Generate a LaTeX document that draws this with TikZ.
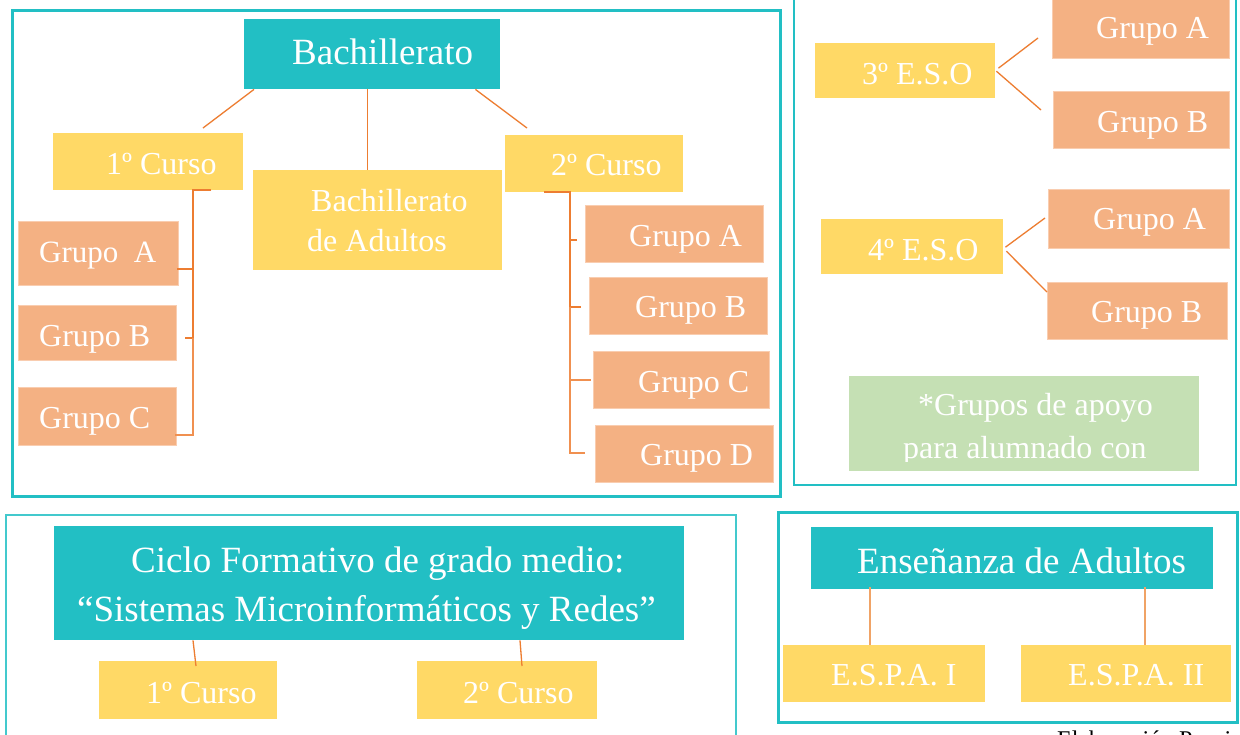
\documentclass[tikz,border=0pt]{standalone}
\usepackage{fontspec}
\setmainfont{Liberation Serif}
\definecolor{tealc}{HTML}{22BFC4}
\definecolor{yelc}{HTML}{FFD966}
\definecolor{orac}{HTML}{F4B183}
\definecolor{orab}{HTML}{F9CDB0}
\definecolor{grec}{HTML}{C5E0B4}
\definecolor{linec}{HTML}{ED7D31}
\definecolor{linel}{HTML}{F0A366}
\tikzset{
  tbox/.style={fill=tealc, inner sep=0pt, anchor=north west},
  ybox/.style={fill=yelc, inner sep=0pt, anchor=north west},
  obox/.style={fill=orac, draw=orab, line width=1.2pt, inner sep=0pt, anchor=north west},
  gbox/.style={fill=grec, inner sep=0pt, anchor=north west},
  txt/.style={text=white, inner sep=0pt, anchor=base west, font=\fontsize{32}{38}\selectfont},
  bigtxt/.style={txt, font=\fontsize{37}{45}\selectfont},
  conn/.style={draw=linec, line width=1.3pt},
  brk/.style={draw=linec, line width=2pt},
  brkl/.style={draw=linec!85!white, line width=1.4pt},
  espa/.style={draw=linel, line width=2pt},
  frame/.style={draw=tealc, line width=3pt},
}
\newcommand\mkbox[6]{\node[#2, minimum width={(#5)-(#3)}, minimum height={(#6)-(#4)}] (#1) at (#3,#4) {};}
\begin{document}
\begin{tikzpicture}[x=1pt,y=-1pt]
\useasboundingbox (0,0) rectangle (1240,734);
\fill[white] (0,0) rectangle (1240,734);
% frames
\draw[frame] (12,10) rectangle (780,496);
\draw[frame, line width=2.5pt] (794,-5) rectangle (1236,485);
\draw[frame, line width=1.5pt, draw=tealc!85!white] (6,515) rectangle (736,745);
\draw[frame] (778,512) rectangle (1237,722);

% ---------- Bachillerato ----------
\mkbox{bach}{tbox}{244}{19}{500}{89}
\node[bigtxt] (tbach) at (292,64) {Bachillerato};
\mkbox{c1}{ybox}{53}{133}{243}{190}
\node[txt] (tc1) at (106,174) {1º Curso};
\mkbox{bad}{ybox}{253}{170}{502}{270}
\node[txt] (tbad1) at (311,211) {Bachillerato};
\node[txt] (tbad2) at (307,251) {de Adultos};
\mkbox{c2}{ybox}{505}{135}{683}{192}
\node[txt] (tc2) at (551,175) {2º Curso};

\coordinate (e1) at (203,128);
\coordinate (e2) at (527,128);
\draw[conn] ([xshift=10pt]bach.south west) -- (e1);
\draw[conn] ([xshift=-5pt]bach.south) -- ([xshift=-5pt]bach.south |- bad.north);
\draw[conn] ([xshift=-25pt]bach.south east) -- (e2);

% left groups
\mkbox{la}{obox}{18}{221}{178}{285}
\node[txt, font=\fontsize{31}{38}\selectfont] (tla) at (39,262) {Grupo\ \ A};
\mkbox{lb}{obox}{18}{305}{176}{360}
\node[txt] (tlb) at (39,346) {Grupo B};
\mkbox{lc}{obox}{18}{387}{176}{445}
\node[txt] (tlc) at (39,428) {Grupo C};

\coordinate (ta) at (183,269);
\coordinate (tb) at (185,338);
\coordinate (tcc) at (175,435);
\draw[brk] ([xshift=-32pt]c1.south east) -- ++(-18,0) |- (tb);
\draw[brk] (ta -| tb) ++(-8,0) -- (ta);
\draw[brk] (ta) -- ++(10,0);
\draw[brkl] (193,338) |- (tcc);

% right groups
\mkbox{ra}{obox}{585}{205}{763}{262}
\node[txt] (tra) at (629,246) {Grupo A};
\mkbox{rb}{obox}{589}{277}{767}{334}
\node[txt] (trb) at (635,317) {Grupo B};
\mkbox{rc}{obox}{593}{351}{769}{408}
\node[txt] (trc) at (638,392) {Grupo C};
\mkbox{rd}{obox}{595}{425}{773}{482}
\node[txt] (trd) at (640,465) {Grupo D};

\coordinate (sa) at (577,240);
\coordinate (sb) at (581,307);
\coordinate (sc) at (591,380);
\coordinate (sd) at (585,453);
\draw[brk] ([xshift=39pt]c2.south west) -- ++(26,0) |- (sb);
\draw[brk] (570,240) -- (sa);
\draw[brkl] (570,307) |- (sd);
\draw[brkl] (570,380) -- (sc);

% ---------- ESO ----------
\mkbox{e3}{ybox}{815}{43}{995}{98}
\node[txt] (te3) at (862,84) {3º E.S.O};
\mkbox{e3a}{obox}{1052}{-3}{1229}{58}
\node[txt] (te3a) at (1096,38) {Grupo A};
\mkbox{e3b}{obox}{1053}{91}{1229}{148}
\node[txt] (te3b) at (1097,132) {Grupo B};
\coordinate (f1) at (1038,38);
\coordinate (f2) at (1041,110);
\draw[conn] ([xshift=3pt,yshift=2.5pt]e3.east) -- (f1);
\draw[conn] ([xshift=1pt,yshift=-0.5pt]e3.east) -- (f2);

\mkbox{e4}{ybox}{821}{219}{1003}{274}
\node[txt] (te4) at (868,260) {4º E.S.O};
\mkbox{e4a}{obox}{1048}{189}{1229}{248}
\node[txt] (te4a) at (1093,229) {Grupo A};
\mkbox{e4b}{obox}{1047}{282}{1227}{339}
\node[txt] (te4b) at (1091,322) {Grupo B};
\coordinate (f3) at (1045,218);
\coordinate (f4) at (1047,292);
\draw[conn] ([xshift=2pt,yshift=-0.5pt]e4.east) -- (f3);
\draw[conn] ([xshift=3pt,yshift=-4.5pt]e4.east) -- (f4);

\mkbox{apoyo}{gbox}{849}{376}{1199}{471}
\begin{scope}
\clip (849,376) rectangle (1199,461);
\node[txt] (tap1) at (918,415) {*Grupos de apoyo};
\node[txt] (tap2) at (903,458) {para alumnado con};
\end{scope}

% ---------- Ciclo ----------
\mkbox{ciclo}{tbox}{54}{526}{684}{640}
\node[bigtxt] (tci1) at (131,572) {Ciclo Formativo de grado medio:};
\node[bigtxt] (tci2) at (77,621) {“Sistemas Microinformáticos y Redes”};
\mkbox{k1}{ybox}{99}{661}{277}{719}
\node[txt] (tk1) at (146,703) {1º Curso};
\mkbox{k2}{ybox}{417}{661}{597}{719}
\node[txt] (tk2) at (463,703) {2º Curso};
\coordinate (g1) at (196,666);
\coordinate (g2) at (522,666);
\draw[conn] ([xshift=139pt]ciclo.south west) -- (g1);
\draw[conn] ([xshift=466pt]ciclo.south west) -- (g2);

% ---------- Enseñanza de Adultos ----------
\mkbox{ens}{tbox}{811}{527}{1213}{589}
\node[bigtxt] (tens) at (857,573) {Enseñanza de Adultos};
\mkbox{p1}{ybox}{783}{645}{985}{702}
\node[txt] (tp1) at (831,685) {E.S.P.A. I};
\mkbox{p2}{ybox}{1021}{645}{1231}{702}
\node[txt] (tp2) at (1068,685) {E.S.P.A. II};
\draw[espa] ([xshift=59pt]ens.south west) ++(0,-2) -- ([xshift=59pt]ens.south west |- p1.north);
\draw[espa] ([xshift=334pt]ens.south west) ++(0,-2) -- ([xshift=334pt]ens.south west |- p2.north);

\node[anchor=base west, inner sep=0pt, font=\fontsize{24}{28}\selectfont] (src) at (1057,747) {Elaboración Propia};
\end{tikzpicture}
\end{document}
